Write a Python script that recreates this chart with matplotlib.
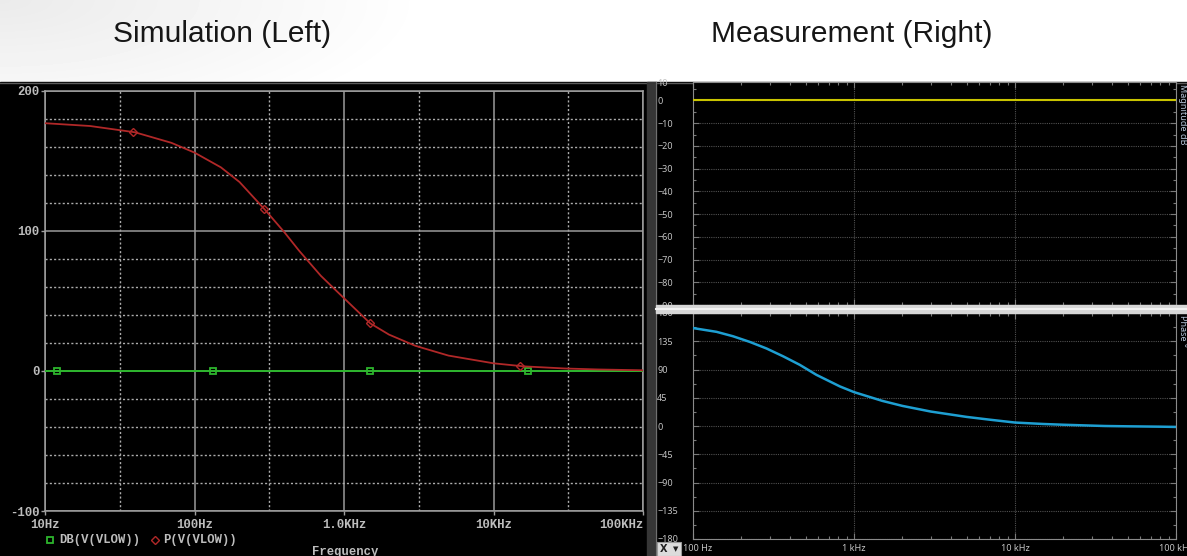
import numpy as np
import matplotlib
matplotlib.use("Agg")
import matplotlib.pyplot as plt
from matplotlib.patches import Rectangle
from matplotlib.ticker import FixedLocator, FixedFormatter, NullFormatter, LogLocator
from matplotlib.transforms import Bbox, TransformedBbox, ScaledTranslation

# ---------------- Simulation: PSpice AC sweep of V(VLOW) ----------------
sim_freq = [10, 20, 40, 70, 100, 150, 200, 300, 400, 500, 700, 1000,
            1500, 2000, 3000, 5000, 10000, 16000, 30000, 50000, 100000]
sim_phase = [177, 175, 170.5, 163, 156, 145.5, 135, 114.5, 99, 86, 68, 52,
             34, 26, 18, 11, 5.5, 3.3, 1.8, 1.1, 0.5]
sim_db_freq = [10, 100000]
sim_db = [0, 0]
sim_db_marker_freq = [12, 133, 1500, 17000]
sim_db_marker = [0, 0, 0, 0]
sim_phase_marker_freq = [39, 293, 1500, 15000]
sim_phase_marker = [171, 115.5, 34, 3.6]

sim_xticks = [10, 100, 1000, 10000, 100000]
sim_xlabels = ["10Hz", "100Hz", "1.0KHz", "10KHz", "100KHz"]
sim_xhalf = [31.62, 316.2, 3162, 31623]
sim_yticks = [-100, 0, 100, 200]
sim_ylabels = ["-100", "0", "100", "200"]
sim_yminor = [-80, -60, -40, -20, 20, 40, 60, 80, 120, 140, 160, 180]

# ---------------- Measurement: Bode analyser ----------------
meas_freq = [100, 140, 177, 225, 286, 363, 460, 584, 818, 1000, 1500, 2000,
             3000, 5000, 7000, 10000, 15000, 20000, 36000, 50000, 81000, 100000]
meas_phase = [156, 150, 143, 134, 123.5, 111, 97.5, 81.5, 63, 54, 40, 32,
              23, 14.5, 10, 5.5, 3.2, 2, 0, -0.5, -1.1, -1.5]
meas_mag_freq = [100, 1000, 10000, 100000]
meas_mag = [0.3, 0.3, 0.3, 0.3]

meas_xticks = [100, 1000, 10000, 100000]
meas_xlabels = ["100 Hz", "1 kHz", "10 kHz", "100 kHz"]
mag_yticks = [0, -10, -20, -30, -40, -50, -60, -70, -80, -90]
mag_yminor = [5, -5, -15, -25, -35, -45, -55, -65, -75, -85]
ph_yticks = [180, 135, 90, 45, 0, -45, -90, -135, -180]
ph_yminor = [157.5, 112.5, 67.5, 22.5, -22.5, -67.5, -112.5, -157.5]

# ---------------- figure layout (pixel based) ----------------
W, H = 1187, 556
DPI = 100
fig = plt.figure(figsize=(W / DPI, H / DPI), dpi=DPI)
fig.patch.set_facecolor("white")


def rect(x0, y0, x1, y1):
    return [x0 / W, 1 - y1 / H, (x1 - x0) / W, (y1 - y0) / H]


bg = fig.add_axes([0, 0, 1, 1], zorder=0)
bg.axis("off")

# soft grey shading of the slide in the upper-left corner
yy, xx = np.mgrid[0:82, 0:W]
dist = np.sqrt(xx ** 2 + (yy * 3.0) ** 2)
shade = np.clip(1 - dist / 430.0, 0, 1)
bg.imshow(1 - 0.08 * shade, cmap="gray", vmin=0, vmax=1,
          extent=(0, W, 82, 0), aspect="auto", interpolation="bilinear")
bg.set_xlim(0, W)
bg.set_ylim(H, 0)

# black screen area
bg.add_patch(Rectangle((0, 82), W, H - 82, color="black", zorder=2))
bg.plot([0, W], [82.5, 82.5], color="#5a5a5a", lw=1.0, zorder=3)
# separator between the two windows
bg.add_patch(Rectangle((647, 82), 9, H - 82, color="#363636", zorder=3))
bg.plot([656, 656], [82, H], color="#707070", lw=0.8, zorder=3)

bg.text(222, 34, "Simulation (Left)", fontsize=21.5, family="Liberation Sans",
        ha="center", va="center", color="#161616")
bg.text(852, 34, "Measurement (Right)", fontsize=21.5, family="Liberation Sans",
        ha="center", va="center", color="#161616")

mono = dict(family="Liberation Mono", fontweight="bold", fontsize=8.8, color="#bdbdbd")
green = "#2db52d"
red = "#b02828"
blue = "#1e9fd2"
yellow = "#c9c400"

# ---------------- left: simulation ----------------
axL = fig.add_axes(rect(45, 91, 643, 511), zorder=2)
axL.set_facecolor("black")
axL.set_xscale("log")
axL.set_xlim(10, 1e5)
axL.set_ylim(-100, 200)
axL.xaxis.set_major_locator(FixedLocator(sim_xticks))
axL.xaxis.set_major_formatter(FixedFormatter(sim_xlabels))
axL.xaxis.set_minor_locator(FixedLocator(sim_xhalf))
axL.xaxis.set_minor_formatter(NullFormatter())
axL.yaxis.set_major_locator(FixedLocator(sim_yticks))
axL.yaxis.set_major_formatter(FixedFormatter(sim_ylabels))
axL.yaxis.set_minor_locator(FixedLocator(sim_yminor))
axL.grid(which="major", color="#9a9a9a", lw=1.1, ls="-")
axL.grid(which="minor", color="#adadad", lw=1.0, ls=(0, (1.5, 1.6)))
axL.tick_params(which="major", length=3, width=1, color="#a0a0a0", direction="out",
                labelcolor="#bdbdbd", labelsize=8.8)
axL.tick_params(axis="x", pad=3)
axL.tick_params(axis="y", pad=1)
axL.tick_params(which="minor", length=0)
for s in axL.spines.values():
    s.set_color("#a0a0a0")
    s.set_linewidth(1.1)
for lbl in axL.get_xticklabels() + axL.get_yticklabels():
    lbl.set_fontfamily("Liberation Mono")
    lbl.set_fontweight("bold")
axL.get_xticklabels()[-1].set_ha("right")

axL.plot(sim_db_freq, sim_db, color=green, lw=1.4, zorder=3)
axL.plot(sim_db_marker_freq, sim_db_marker, ls="none", marker="s", ms=5,
         mfc="none", mec=green, mew=1.3, zorder=4)
axL.plot(sim_freq, sim_phase, color=red, lw=1.3, zorder=5)
axL.plot(sim_phase_marker_freq, sim_phase_marker, ls="none", marker="D", ms=3.6,
         mfc="none", mec=red, mew=1.0, zorder=6)

# trace legend and axis title under the plot
bg.plot([50], [540], ls="none", marker="s", ms=5, mfc="none", mec=green, mew=1.3, zorder=4)
bg.text(59, 540, "DB(V(VLOW))", ha="left", va="center", zorder=4, **mono)
bg.plot([155], [540], ls="none", marker="D", ms=3.6, mfc="none", mec=red, mew=1.0, zorder=4)
bg.text(163, 540, "P(V(VLOW))", ha="left", va="center", zorder=4, **mono)
bg.text(345, 546, "Frequency", ha="center", va="top", zorder=4, **mono)

# ---------------- right: measurement ----------------
lab = dict(labelcolor="#c4c4c4", labelsize=6.5)


def style_bode(ax):
    ax.set_facecolor("black")
    ax.set_xscale("log")
    ax.set_xlim(100, 1e5)
    ax.xaxis.set_major_locator(FixedLocator(meas_xticks))
    ax.xaxis.set_minor_locator(LogLocator(base=10, subs=np.arange(2, 10)))
    ax.xaxis.set_minor_formatter(NullFormatter())
    ax.grid(which="major", color="#505050", lw=0.8, ls=(0, (1, 1)))
    ax.tick_params(which="both", direction="in", color="#7a7a7a", width=0.8,
                   left=True, right=True, top=True, bottom=True)
    ax.tick_params(which="major", length=4)
    ax.tick_params(which="minor", length=2.5)
    ax.tick_params(axis="y", pad=25.9, **lab)
    for s in ax.spines.values():
        s.set_color("#8a8a8a")
        s.set_linewidth(0.8)


axM = fig.add_axes(rect(693, 82, 1176, 305), zorder=2)
style_bode(axM)
axM.set_ylim(-90, 8.1)
axM.yaxis.set_major_locator(FixedLocator(mag_yticks))
axM.yaxis.set_minor_locator(FixedLocator(mag_yminor))
axM.xaxis.set_major_formatter(NullFormatter())
axM.plot(meas_mag_freq, meas_mag, color=yellow, lw=1.5, zorder=3)

axP = fig.add_axes(rect(693, 313, 1176, 539), zorder=2)
style_bode(axP)
axP.set_ylim(-180, 180)
axP.yaxis.set_major_locator(FixedLocator(ph_yticks))
axP.yaxis.set_minor_locator(FixedLocator(ph_yminor))
axP.xaxis.set_major_formatter(FixedFormatter(meas_xlabels))
axP.tick_params(axis="x", pad=3.6, **lab)
axP.plot(meas_freq, meas_phase, color=blue, lw=1.8, zorder=3)

for ax in (axM, axP):
    for lbl in ax.get_yticklabels() + ax.get_xticklabels():
        lbl.set_fontfamily("Noto Sans")
    for lbl in ax.get_yticklabels():
        lbl.set_ha("left")
# the first frequency label sits just right of the X selector box
first = axP.get_xticklabels()[0]
first.set_ha("left")
first.set_transform(first.get_transform() + ScaledTranslation(-10 / DPI, 0, fig.dpi_scale_trans))

# overlay: splitter bar, x-axis selector and side captions
top = fig.add_axes([0, 0, 1, 1], zorder=5)
top.set_xlim(0, W)
top.set_ylim(H, 0)
top.axis("off")
top.add_patch(Rectangle((656, 305), W - 656, 8, color="#d6d6d6"))
top.plot([656, W], [309, 309], color="#f2f2f2", lw=1.5)
top.add_patch(Rectangle((657, 542), 24, 14, facecolor="#dcdcdc", edgecolor="#9a9a9a", lw=0.8))
top.text(664, 549.5, "X", family="DejaVu Sans", fontweight="bold", fontsize=7,
         ha="center", va="center", color="#202020")
top.text(675.5, 549.5, "\u25BC", family="DejaVu Sans", fontsize=5,
         ha="center", va="center", color="#202020")
side = dict(family="Noto Sans", fontsize=6.5, color="#b4c4d8", rotation=270,
            ha="center", va="top")
top.text(1182, 84, "Magnitude dB", **side)
top.text(1182, 315, "Phase \u00b0", **side)
t10 = top.text(657, 84, "10", family="Noto Sans", fontsize=6.5, color="#c4c4c4",
               ha="left", va="center")
t10.set_clip_box(TransformedBbox(Bbox([[0, 82], [W, H]]), top.transData))

fig.savefig("out.png", dpi=DPI, facecolor=fig.get_facecolor())
